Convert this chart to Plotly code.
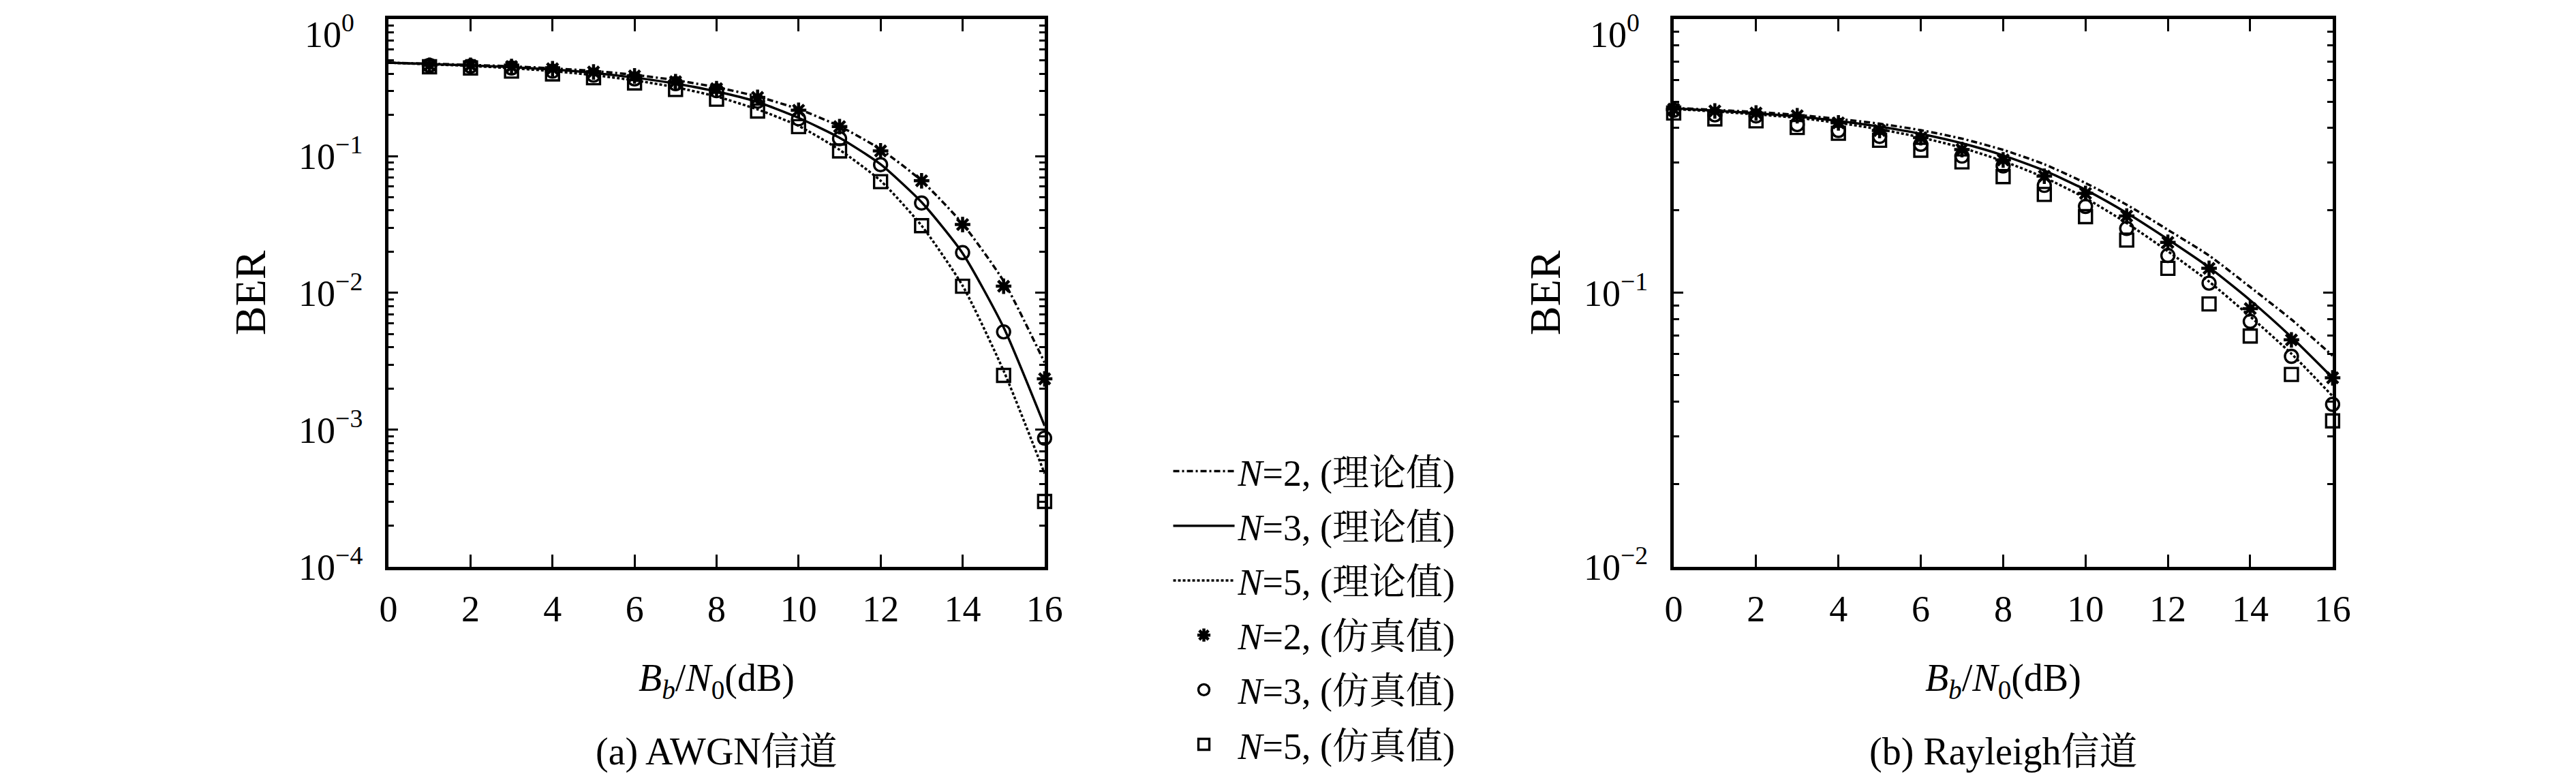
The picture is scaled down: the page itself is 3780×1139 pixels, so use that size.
import plotly.graph_objects as go

# ---------------- data ----------------
snr_theory = list(range(0, 17))
snr_sim_awgn = list(range(1, 17))
snr_sim_ray = list(range(0, 17))

awgn_theory_n2 = [0.48, 0.472, 0.463, 0.452, 0.437, 0.418, 0.392, 0.358, 0.318, 0.272, 0.22, 0.165, 0.112, 0.066, 0.032, 0.0122, 0.0031]
awgn_theory_n3 = [0.48, 0.47, 0.459, 0.446, 0.428, 0.405, 0.374, 0.338, 0.296, 0.248, 0.19, 0.136, 0.087, 0.046, 0.0195, 0.0056, 0.00107]
awgn_theory_n5 = [0.48, 0.468, 0.455, 0.438, 0.417, 0.39, 0.357, 0.318, 0.272, 0.219, 0.166, 0.111, 0.066, 0.031, 0.0113, 0.0027, 0.00048]

awgn_sim_n2 = [0.46, 0.46, 0.45, 0.434, 0.411, 0.385, 0.349, 0.31, 0.268, 0.216, 0.164, 0.109, 0.066, 0.0316, 0.0112, 0.00236]
awgn_sim_n3 = [0.46, 0.454, 0.44, 0.417, 0.39, 0.366, 0.338, 0.30, 0.251, 0.187, 0.134, 0.0865, 0.0454, 0.0197, 0.0052, 0.00087]
awgn_sim_n5 = [0.449, 0.44, 0.417, 0.398, 0.373, 0.342, 0.306, 0.26, 0.213, 0.164, 0.109, 0.065, 0.031, 0.0112, 0.0025, 0.0003]

ray_theory_n2 = [0.474, 0.466, 0.458, 0.447, 0.432, 0.415, 0.393, 0.366, 0.333, 0.295, 0.252, 0.21, 0.17, 0.137, 0.105, 0.08, 0.059]
ray_theory_n3 = [0.472, 0.463, 0.453, 0.441, 0.425, 0.405, 0.381, 0.352, 0.318, 0.28, 0.238, 0.196, 0.157, 0.124, 0.094, 0.069, 0.049]
ray_theory_n5 = [0.47, 0.46, 0.449, 0.436, 0.418, 0.396, 0.37, 0.339, 0.303, 0.264, 0.222, 0.18, 0.142, 0.11, 0.082, 0.06, 0.042]

ray_sim_n2 = [0.469, 0.462, 0.454, 0.444, 0.418, 0.392, 0.369, 0.334, 0.306, 0.267, 0.231, 0.191, 0.153, 0.123, 0.0877, 0.0674, 0.049]
ray_sim_n3 = [0.465, 0.447, 0.443, 0.412, 0.392, 0.373, 0.349, 0.316, 0.291, 0.247, 0.207, 0.172, 0.137, 0.1086, 0.0787, 0.0587, 0.0392]
ray_sim_n5 = [0.454, 0.432, 0.425, 0.402, 0.383, 0.361, 0.332, 0.301, 0.266, 0.229, 0.19, 0.156, 0.123, 0.0912, 0.0696, 0.0504, 0.0341]

theory_names = ["<i>N</i>=2, (理论值)", "<i>N</i>=3, (理论值)", "<i>N</i>=5, (理论值)"]
sim_names = ["<i>N</i>=2, (仿真值)", "<i>N</i>=3, (仿真值)", "<i>N</i>=5, (仿真值)"]
x_title = "<i>B</i><sub><i>b</i></sub>/<i>N</i><sub>0</sub>(dB)"
y_title = "BER"
sub_titles = ["(a) AWGN信道", "(b) Rayleigh信道"]
x_ticks = [0, 2, 4, 6, 8, 10, 12, 14, 16]
top_tick_label = "10<sup>0</sup>"
y_ticks_awgn = [1, 0.1, 0.01, 0.001, 0.0001]
y_ticktext_awgn = ["", "10<sup>−1</sup>", "10<sup>−2</sup>", "10<sup>−3</sup>", "10<sup>−4</sup>"]
y_ticks_ray = [1, 0.1, 0.01]
y_ticktext_ray = ["", "10<sup>−1</sup>", "10<sup>−2</sup>"]

# ---------------- style ----------------
FONT = "Liberation Serif, Noto Serif CJK SC, Noto Sans CJK SC, serif"
dashes = ["9px,4px,3px,4px", "solid", "4px,3px"]
symbols = ["asterisk-open", "circle-open", "square-open"]

fig = go.Figure()

panels = [
    ("x", "y", snr_sim_awgn, [awgn_theory_n2, awgn_theory_n3, awgn_theory_n5],
     [awgn_sim_n2, awgn_sim_n3, awgn_sim_n5], True),
    ("x2", "y2", snr_sim_ray, [ray_theory_n2, ray_theory_n3, ray_theory_n5],
     [ray_sim_n2, ray_sim_n3, ray_sim_n5], False),
]

for xa, ya, xs, th, sims, show in panels:
    for i in range(3):
        fig.add_trace(go.Scatter(
            x=snr_theory, y=th[i], mode="lines", name=theory_names[i],
            legendgroup="t%d" % i, showlegend=show,
            line=dict(color="black", width=3.5, dash=dashes[i], shape="spline", smoothing=0.6),
            xaxis=xa, yaxis=ya))
for xa, ya, xs, th, sims, show in panels:
    for i in range(3):
        fig.add_trace(go.Scatter(
            x=xs, y=sims[i], mode="markers", name=sim_names[i],
            legendgroup="s%d" % i, showlegend=show, cliponaxis=False,
            marker=dict(symbol=symbols[i], size=19, color="black",
                        line=dict(color="black", width=4.5 if i == 0 else 3.4)),
            xaxis=xa, yaxis=ya))

xdom = [[0.1487, 0.4034], [0.6476, 0.9034]]
ydom = [0.2766, 0.9824]
ytitle_x = [360 / 3780, 2260 / 3780]
FIG_W, FIG_H = 3780, 1139

axis_common = dict(
    showline=True, linecolor="black", linewidth=5, mirror="ticks",
    ticks="inside", tickcolor="black", tickwidth=3, showgrid=False, zeroline=False,
    tickfont=dict(family=FONT, size=54, color="black"),
    ticklabeloverflow="allow", automargin=False,
)

x_axis = dict(axis_common, range=[0, 16], tickvals=x_ticks, ticklen=18,
              ticklabelstandoff=10,
              title=dict(text=x_title, font=dict(family=FONT, size=56, color="black"), standoff=54))
y_common = dict(axis_common, type="log", ticklen=14, ticklabelstandoff=22,
                minor=dict(ticks="inside", ticklen=8, tickwidth=3, tickcolor="black", dtick="D1", showgrid=False))

fig.update_layout(
    width=FIG_W, height=FIG_H,
    margin=dict(l=0, r=0, t=0, b=0, autoexpand=False),
    paper_bgcolor="white", plot_bgcolor="white",
    font=dict(family=FONT, size=54, color="black"),
    xaxis=dict(x_axis, domain=xdom[0], anchor="y"),
    xaxis2=dict(x_axis, domain=xdom[1], anchor="y2"),
    yaxis=dict(y_common, domain=ydom, range=[-4, 0], anchor="x",
               tickvals=y_ticks_awgn, ticktext=y_ticktext_awgn),
    yaxis2=dict(y_common, domain=ydom, range=[-2, 0], anchor="x2",
                tickvals=y_ticks_ray, ticktext=y_ticktext_ray),
    legend=dict(x=0.452, y=0.4364, xanchor="left", yanchor="top",
                traceorder="grouped", tracegroupgap=7, itemwidth=90,
                font=dict(family=FONT, size=54, color="black"),
                bgcolor="rgba(0,0,0,0)", borderwidth=0),
    showlegend=True,
)

for i in range(2):
    fig.add_annotation(text=y_title, xref="paper", yref="paper",
                       x=ytitle_x[i], y=(ydom[0] + ydom[1]) / 2, textangle=-90,
                       xanchor="center", yanchor="middle", showarrow=False,
                       font=dict(family=FONT, size=64, color="black"))
    fig.add_annotation(text=sub_titles[i], xref="paper", yref="paper",
                       x=(xdom[i][0] + xdom[i][1]) / 2, y=1 - 1095 / FIG_H,
                       xanchor="center", yanchor="middle", showarrow=False,
                       font=dict(family=FONT, size=56, color="black"))
    # top decade label of the log axis, kept inside the page
    fig.add_annotation(text=top_tick_label, xref="paper", yref="paper",
                       x=xdom[i][0] - 48 / FIG_W, y=1 - 2 / FIG_H,
                       xanchor="right", yanchor="top", showarrow=False,
                       font=dict(family=FONT, size=54, color="black"))

fig.write_html("out.html")
